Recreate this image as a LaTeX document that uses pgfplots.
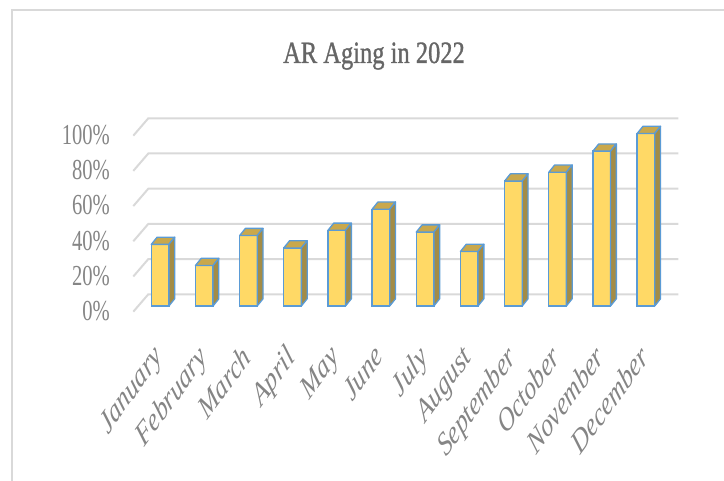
\documentclass[border=0pt]{standalone}
\usepackage{pgfplots}
\pgfplotsset{compat=1.18}
\usepackage{pgfplotstable}
\usepackage{fontspec}
\setmainfont{Liberation Serif}
\newfontfamily\titlefont{Liberation Serif}[FakeBold=1.2]

\definecolor{barfront}{HTML}{FFD966}
\definecolor{bartop}{HTML}{C9A84C}
\definecolor{barside}{HTML}{A38C46}
\definecolor{baredge}{HTML}{5B9BD5}
\definecolor{gridc}{HTML}{D9D9D9}
\definecolor{titlec}{HTML}{666666}
\definecolor{tickc}{HTML}{858585}

% share of receivables outstanding per month
\pgfplotstableread{
idx month value
0 January 0.35
1 February 0.23
2 March 0.40
3 April 0.33
4 May 0.43
5 June 0.55
6 July 0.42
7 August 0.31
8 September 0.71
9 October 0.76
10 November 0.88
11 December 0.98
}\aging

% half width of a column and its depth offset (pt)
\newcommand\hw{8.8}
\newcommand\hwd{14.6}
\newcommand\dlx{-3.0}
\newcommand\ddy{7.2}

% top and right faces of a column; the mark sits on the front top edge
\pgfdeclareplotmark{column3d}{%
  \pgfsetroundjoin
  \pgfmathsetmacro\colbase{-\barval*176}%
  \pgfmathsetmacro\colbaseback{\ddy-\barval*176}%
  \pgfpathmoveto{\pgfqpoint{-\hw pt}{0pt}}%
  \pgfpathlineto{\pgfqpoint{\hw pt}{0pt}}%
  \pgfpathlineto{\pgfqpoint{\hwd pt}{\ddy pt}}%
  \pgfpathlineto{\pgfqpoint{\dlx pt}{\ddy pt}}%
  \pgfpathclose
  \pgfsetfillcolor{bartop}%
  \pgfusepath{fill,stroke}%
  \pgfpathmoveto{\pgfqpoint{\hw pt}{0pt}}%
  \pgfpathlineto{\pgfqpoint{\hwd pt}{\ddy pt}}%
  \pgfpathlineto{\pgfqpoint{\hwd pt}{\colbaseback pt}}%
  \pgfpathlineto{\pgfqpoint{\hw pt}{\colbase pt}}%
  \pgfpathclose
  \pgfsetfillcolor{barside}%
  \pgfusepath{fill,stroke}%
}

\begin{document}
\begin{tikzpicture}
\useasboundingbox (0,0) rectangle (724pt,481pt);
\draw[gridc, line width=2pt] (12pt,0pt) -- (12pt,471pt) -- (724pt,471pt);
\node[font=\titlefont\fontsize{31}{33}\selectfont, text=titlec, xscale=0.79, anchor=base]
  at (374pt,418pt) {AR Aging in 2022};
\begin{axis}[
  at={(138pt,175pt)}, anchor=south west,
  scale only axis, width=530pt, height=176pt,
  xmin=-0.5, xmax=11.5, ymin=0, ymax=1,
  clip=false,
  axis line style={draw=none},
  major tick length=0pt,
  xtick={0,...,11},
  xticklabels={January,February,March,April,May,June,July,August,September,October,November,December},
  ytick={0,0.2,0.4,0.6,0.8,1},
  yticklabels={0\%,20\%,40\%,60\%,80\%,100\%},
  tick label style={text=tickc},
  yticklabel style={font=\fontsize{29}{30}\selectfont, inner sep=0pt,
    xshift=-28pt, yshift=-5pt, xscale=0.71, anchor=east},
  xticklabel style={font=\itshape\fontsize{33}{34}\selectfont, inner sep=0pt,
    xshift=-8pt, yshift=-37pt, xscale=0.72, rotate=45, anchor=north east},
]
% back wall and left wall gridlines
\pgfplotsinvokeforeach{0,0.2,0.4,0.6,0.8,1}{
  \draw[gridc, line width=2pt]
    ([shift={(-4.7pt,-5.7pt)}]axis cs:-0.5,#1)
    -- ([shift={(10.3pt,11.7pt)}]axis cs:-0.5,#1)
    -- ([shift={(10.3pt,11.7pt)}]axis cs:11.5,#1);
}
% front faces
\addplot[ybar, bar width=17.6pt, fill=barfront, draw=baredge, line width=1.3pt]
  table[x=idx, y=value] {\aging};
% top and side faces
\addplot[scatter, only marks, mark=column3d, line width=1.3pt,
  scatter/use mapped color={draw=baredge, fill=bartop},
  visualization depends on={\thisrow{value} \as \barval}]
  table[x=idx, y=value] {\aging};
\end{axis}
\end{tikzpicture}
\end{document}
